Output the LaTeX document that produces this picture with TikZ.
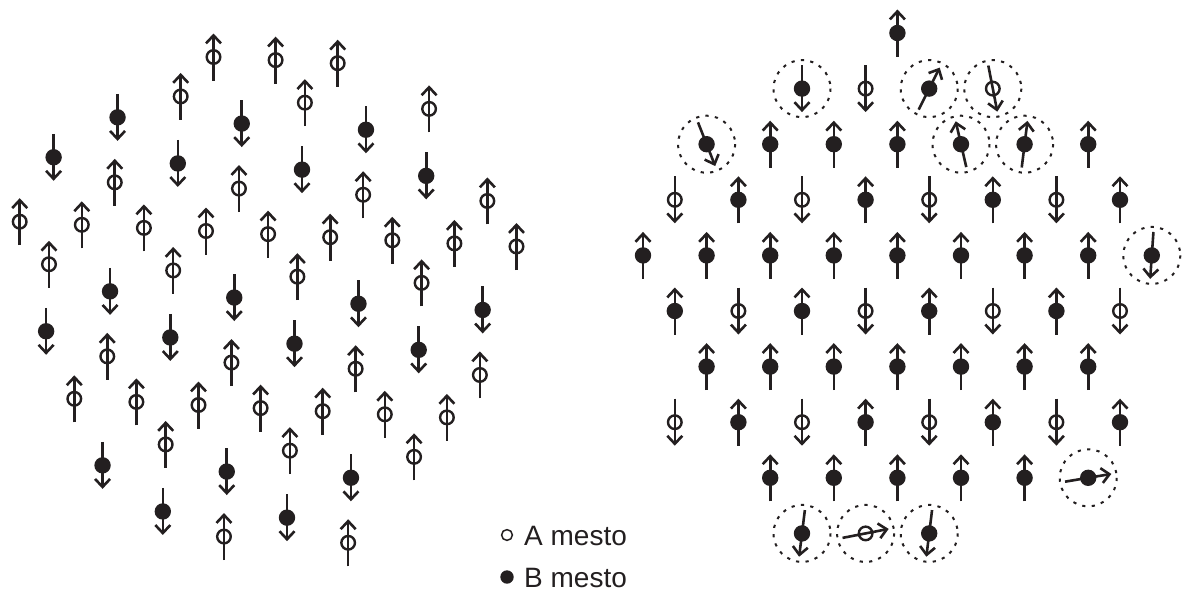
\documentclass[tikz,border=0pt]{standalone}
\usepackage{fontspec}
\setmainfont{Liberation Sans}
\usetikzlibrary{arrows.meta}
\definecolor{ink}{RGB}{35,31,32}
\tikzset{
  spinline/.style={draw=ink, line width=2.6pt, -{Straight Barb[length=8pt,width=15pt]}},
  ring/.style={draw=ink, line width=2.4pt},
  dot/.style={fill=ink},
  defect/.style={draw=ink, line width=2pt, dash pattern=on 3.2pt off 6.3pt},
  legtext/.style={anchor=base west, inner sep=0pt, text=ink, font=\fontsize{28}{30}\selectfont},
}
\newcommand\openspin[3]{%
  \draw[spinline] (#1,#2) ++(#3+180:23.5) -- ++(#3:47);
  \draw[ring] (#1,#2) circle[radius=6.8];}
\newcommand\fullspin[3]{%
  \draw[spinline] (#1,#2) ++(#3+180:23.5) -- ++(#3:47);
  \fill[dot] (#1,#2) circle[radius=8.2];}
% left lattice: period p, offset along row da, depth db
\newcommand\lsite[4]{%
  \pgfmathsetmacro\sx{206-7.5*(#1)+62.1*(#2)-0.043*(#3)}%
  \pgfmathsetmacro\sy{231+174*(#1)+3.1*(#2)+(#3)}%
  \ifx#4A\openspin{\sx}{\sy}{-90}\else\fullspin{\sx}{\sy}{90}\fi}
% right lattice: row r, column j, type, angle, circled
\newcommand\rsite[5]{%
  \pgfmathsetmacro\sx{643+63.6*((#2)+0.5*mod(#1,2))}%
  \pgfmathsetmacro\sy{33+55.6*(#1)}%
  \ifx#3A\openspin{\sx}{\sy}{#4}\else\fullspin{\sx}{\sy}{#4}\fi
  \ifnum#5=1 \draw[defect] (\sx,\sy) circle[radius=28.5];\fi}
\begin{document}
\begin{tikzpicture}[x=1pt,y=-1pt]
\path[use as bounding box] (0,0) rectangle (1184,592);
% ---------------- left pattern ----------------
% period -1
\foreach \n in {0,1,2} {\lsite{-1}{\n}{0}{A}}
\foreach \k in {0,1,2} {\lsite{-1}{2*\k-0.5}{41}{A}}
\foreach \k in {-1,0,1} {\lsite{-1}{2*\k+0.5}{65}{B}}
\foreach \k in {-1,0,1,2} {\lsite{-1}{2*\k-0.5}{108}{B}}
\foreach \k in {-1,0,1,2} {\lsite{-1}{2*\k+0.5}{130}{A}}
% period 0
\foreach \n in {-3,...,5} {\lsite{0}{\n}{0}{A}}
\foreach \k in {-1,0,1,2} {\lsite{0}{2*\k-0.5}{41}{A}}
\foreach \k in {-1,0,1,2} {\lsite{0}{2*\k+0.5}{65}{B}}
\foreach \k in {-1,0,1,2} {\lsite{0}{2*\k-0.5}{108}{B}}
\foreach \k in {-1,0,1,2} {\lsite{0}{2*\k+0.5}{130}{A}}
% period 1
\foreach \n in {-2,...,4} {\lsite{1}{\n}{0}{A}}
\foreach \k in {0,1,2} {\lsite{1}{2*\k-0.5}{41}{A}}
\foreach \k in {-1,0,1} {\lsite{1}{2*\k+0.5}{65}{B}}
\foreach \k in {0,1} {\lsite{1}{2*\k-0.5}{108}{B}}
\foreach \k in {0,1} {\lsite{1}{2*\k+0.5}{130}{A}}
% ---------------- right pattern ----------------
\rsite{0}{4}{B}{-90}{0}
\rsite{1}{2}{B}{90}{1}
\rsite{1}{3}{A}{90}{0}
\rsite{1}{4}{B}{-63.4}{1}
\rsite{1}{5}{A}{79}{1}
\rsite{2}{1}{B}{68.5}{1}
\foreach \j in {2,3,4,7} {\rsite{2}{\j}{B}{-90}{0}}
\rsite{2}{5}{B}{-103}{1}
\rsite{2}{6}{B}{-83}{1}
\foreach \j in {0,2,4,6} {\rsite{3}{\j}{A}{90}{0}}
\foreach \j in {1,3,5,7} {\rsite{3}{\j}{B}{-90}{0}}
\foreach \j in {0,...,7} {\rsite{4}{\j}{B}{-90}{0}}
\rsite{4}{8}{B}{94}{1}
\foreach \j in {0,2,4,6} {\rsite{5}{\j}{B}{-90}{0}}
\foreach \j in {1,3,5,7} {\rsite{5}{\j}{A}{90}{0}}
\foreach \j in {1,...,7} {\rsite{6}{\j}{B}{-90}{0}}
\foreach \j in {0,2,4,6} {\rsite{7}{\j}{A}{90}{0}}
\foreach \j in {1,3,5,7} {\rsite{7}{\j}{B}{-90}{0}}
\foreach \j in {2,...,6} {\rsite{8}{\j}{B}{-90}{0}}
\rsite{8}{7}{B}{-9.5}{1}
\rsite{9}{2}{B}{97}{1}
\rsite{9}{3}{A}{-11}{1}
\rsite{9}{4}{B}{97}{1}
% ---------------- legend ----------------
\draw[ink, line width=1.5pt] (507,535) circle[radius=5.4];
\node[legtext] (la) at (524,545) {A mesto};
\fill[dot] (507,577) circle[radius=6.7];
\node[legtext] (lb) at (524,587) {B mesto};
\end{tikzpicture}
\end{document}
